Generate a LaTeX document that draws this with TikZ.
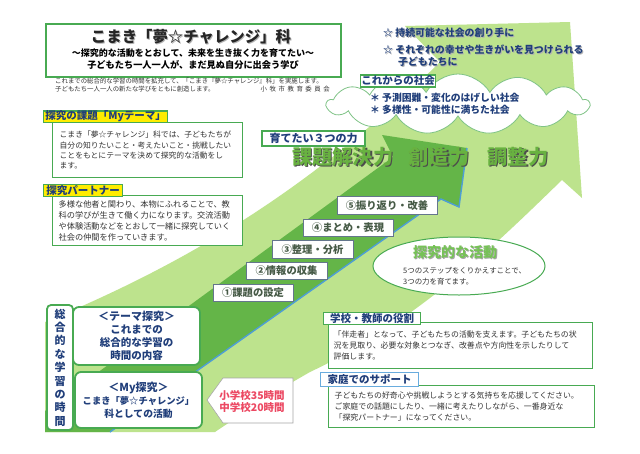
\documentclass[tikz,border=0pt]{standalone}
\usepackage{fontspec}
\setmainfont{Noto Sans CJK JP}
\usetikzlibrary{positioning,calc,shapes.geometric,shapes.symbols}
\definecolor{leaf}{RGB}{189,227,141}
\definecolor{deepleaf}{RGB}{100,181,72}
\definecolor{edgeblue}{RGB}{78,158,214}
\definecolor{boxgreen}{RGB}{72,170,82}
\definecolor{navy}{RGB}{32,62,122}
\definecolor{inkgray}{RGB}{50,50,50}
\definecolor{steptext}{RGB}{70,90,70}
\definecolor{stepline}{RGB}{100,118,140}
\definecolor{hourred}{RGB}{236,72,98}
\definecolor{tagyellow}{RGB}{255,236,0}
\definecolor{homeblue}{RGB}{105,172,222}
\definecolor{powgreen}{RGB}{104,178,64}
\definecolor{activegreen}{RGB}{118,194,86}
\begin{document}
\begin{tikzpicture}[x=1pt,y=-1pt,
    txtbox/.style={draw=boxgreen,line width=1.3pt,fill=white,anchor=north west,align=left,text=inkgray,inner ysep=0pt},
    tag/.style={draw=boxgreen,line width=1.3pt,fill=white,text=navy,inner sep=0pt,font=\bfseries\fontsize{10.5}{11}\selectfont,anchor=south west},
    yellowtag/.style={tag,fill=tagyellow},
    stepbox/.style={draw=stepline,line width=0.8pt,fill=white,text=steptext,inner sep=0pt,minimum height=17.5pt,font=\bfseries\fontsize{10.3}{11}\selectfont},
    roundbox/.style={draw=boxgreen,line width=1.8pt,fill=white,rounded corners=6pt,text=navy,align=center,inner sep=0pt},
    pow/.style={font=\bfseries\fontsize{20.2}{22}\selectfont,text=powgreen,inner sep=0pt},
    powshade/.style={pow,text=black!70},
    star/.style={font=\bfseries\fontsize{9.9}{12}\selectfont,text=navy,inner sep=0pt,anchor=west},
    starshade/.style={star,text=black!30}]
\fill[white] (0,0) rectangle (640,453);
\useasboundingbox (0,0) rectangle (640,453);
% the two arrows
\fill[leaf] (45,432) -- (45,322) .. controls (170,270) and (300,200) .. (440,62)
  -- (405,26) -- (570,22) -- (582,198) -- (562,180)
  .. controls (500,240) and (420,320) .. (310,372)
  .. controls (270,395) .. (215,432) -- cycle;
\fill[deepleaf] (45,432) -- (45,411) -- (393,157) -- (382,135) -- (467,148)
  -- (459,207) -- (441,199) -- (110,432) -- cycle;
\draw[edgeblue,line width=1.4pt] (467,148) -- (459,207) -- (441,199) -- (110,432);
% title
\node[draw=boxgreen,line width=1.8pt,fill=white,minimum width=295pt,minimum height=53pt,anchor=north west] (titlebox) at (45,23) {};
\node[font=\bfseries\fontsize{15.4}{16}\selectfont,text=black!30,inner sep=0pt] (titleS) at (192,38) {こまき「夢☆チャレンジ」科};
\node[font=\bfseries\fontsize{15.4}{16}\selectfont,text=black!85,inner sep=0pt] (title) at (191,37) {こまき「夢☆チャレンジ」科};
\node[font=\bfseries\fontsize{9}{10}\selectfont,inner sep=0pt] (subtitle) at (193,53) {～探究的な活動をとおして、未来を生き抜く力を育てたい～};
\node[font=\bfseries\fontsize{9.2}{10}\selectfont,inner sep=0pt] (motto) at (193,65) {子どもたち一人一人が、まだ見ぬ自分に出会う学び};
\node[anchor=west,align=left,font=\fontsize{6.4}{8}\selectfont,text=inkgray,inner sep=0pt] (intro) at (55,85) {これまでの総合的な学習の時間を拡充して、「こまき『夢☆チャレンジ』科」を実施します。\\子どもたち一人一人の新たな学びをともに創造します。};
\node[anchor=east,font=\fontsize{6.4}{8}\selectfont\addfontfeature{LetterSpace=40},text=inkgray,inner sep=0pt] (board) at (330,89) {小牧市教育委員会};
% aims
\node[starshade] (star1S) at (384,34) {☆ 持続可能な社会の創り手に};
\node[starshade,align=left] (star2S) at (384,57) {☆ それぞれの幸せや生きがいを見つけられる\\\hspace{1.5em}子どもたちに};
\node[star] (star1) at (383,33) {☆ 持続可能な社会の創り手に};
\node[star,align=left] (star2) at (383,56) {☆ それぞれの幸せや生きがいを見つけられる\\\hspace{1.5em}子どもたちに};
\node[cloud,cloud puffs=13,cloud puff arc=120,aspect=4.6,draw=boxgreen!70,line width=0.8pt,fill=white,minimum width=262pt,minimum height=60pt,inner sep=0pt] (society) at (458,104) {};
\node[tag,minimum width=75pt,minimum height=12pt] (societytag) at (360,87.5) {これからの社会};
\node[anchor=west,align=left,font=\bfseries\fontsize{9.8}{11.8}\selectfont,text=navy,inner sep=0pt] (future) at (370,104) {＊\ 予測困難・変化のはげしい社会\\＊\ 多様性・可能性に満ちた社会};
% left boxes
\node[txtbox,text width=176pt,inner xsep=7pt,minimum height=55pt,font=\fontsize{7.8}{10.4}\selectfont] (mybox) at (52,122) {こまき「夢☆チャレンジ」科では、子どもたちが\\自分の知りたいこと・考えたいこと・挑戦したい\\ことをもとにテーマを決めて探究的な活動をし\\ます。};
\node[yellowtag,minimum width=124pt,minimum height=11.5pt] (mytag) at ($(mybox.north west)+(-9,1)$) {探究の課題「Myテーマ」};
\node[txtbox,text width=178pt,inner xsep=6pt,minimum height=50pt,font=\fontsize{8.2}{11}\selectfont] (partnerbox) at (52,195) {多様な他者と関わり、本物にふれることで、教\\科の学びが生きて働く力になります。交流活動\\や体験活動などをとおして一緒に探究していく\\社会の仲間を作っていきます。};
\node[yellowtag,minimum width=79pt,minimum height=12pt] (partnertag) at ($(partnerbox.north west)+(-9,2)$) {探究パートナー};
% three powers
\node[tag,anchor=center,minimum width=103pt,minimum height=15pt,line width=1.6pt,font=\bfseries\fontsize{11}{12}\selectfont] (growtag) at (313.5,138.5) {育てたい３つの力};
\node[powshade,anchor=west] (kadaiS) at (293.3,158.3) {課題解決力};
\node[powshade,right=15pt of kadaiS] (sozoS) {創造力};
\node[powshade,right=18pt of sozoS] (choseiS) {調整力};
\node[pow,anchor=west] (kadai) at (292,157) {課題解決力};
\node[pow,right=15pt of kadai] (sozo) {創造力};
\node[pow,right=18pt of sozo] (chosei) {調整力};
% steps
\node[stepbox,minimum width=80pt] (step1) at (253,293) {①課題の設定};
\node[stepbox,minimum width=81pt] (step2) at (286.5,271) {②情報の収集};
\node[stepbox,minimum width=81pt] (step3) at (312.5,249.5) {③整理・分析};
\node[stepbox,minimum width=90pt] (step4) at (348,228) {④まとめ・表現};
\node[stepbox,minimum width=100pt] (step5) at (387,205.5) {⑤振り返り・改善};
% inquiry
\node[ellipse,draw=boxgreen,line width=1pt,fill=white,minimum width=172pt,minimum height=58pt,inner sep=0pt] (inquiry) at (459,266) {};
\node[font=\bfseries\fontsize{14}{15}\selectfont,text=black!35,inner sep=0pt] (inquiryS) at (456,253) {探究的な活動};
\node[font=\bfseries\fontsize{14}{15}\selectfont,text=activegreen,inner sep=0pt] (inquirytitle) at (455,252) {探究的な活動};
\node[anchor=west,align=left,font=\fontsize{7.45}{11}\selectfont,text=inkgray,inner sep=0pt] (inquirytext) at (403,276.5) {5つのステップをくりかえすことで、\\3つの力を育てます。};
% right boxes
\node[txtbox,text width=254pt,inner xsep=5pt,minimum height=46pt,font=\fontsize{7.9}{11}\selectfont] (schoolbox) at (328,322) {「伴走者」となって、子どもたちの活動を支えます。子どもたちの状\\況を見取り、必要な対象とつなぎ、改善点や方向性を示したりして\\評価します。};
\node[tag,minimum width=97pt,minimum height=12pt] (schooltag) at ($(schoolbox.north west)+(-5,3)$) {学校・教師の役割};
\node[txtbox,text width=254pt,inner xsep=6pt,minimum height=42pt,font=\fontsize{7.9}{11}\selectfont] (homebox) at (328,385) {子どもたちの好奇心や挑戦しようとする気持ちを応援してください。\\ご家庭での話題にしたり、一緒に考えたりしながら、一番身近な\\「探究パートナー」になってください。};
\node[tag,draw=homeblue,minimum width=98pt,minimum height=14pt] (hometag) at ($(homebox.north west)+(-8,2)$) {家庭でのサポート};
% hours of study
\node[roundbox,minimum width=26pt,minimum height=125pt,rounded corners=4pt,font=\bfseries\fontsize{11}{13.4}\selectfont] (period) at (60,367.5) {総\\合\\的\\な\\学\\習\\の\\時\\間};
\node[roundbox,minimum width=127pt,minimum height=58pt,font=\bfseries\fontsize{10.5}{13}\selectfont] (themequest) at (136.5,336) {{\fontsize{11}{13}\selectfont ＜テーマ探究＞}\\これまでの\\総合的な学習の\\時間の内容};
\node[roundbox,minimum width=127pt,minimum height=56pt,font=\bfseries\fontsize{9.3}{13}\selectfont] (myquest) at (138.5,400) {{\fontsize{11}{13}\selectfont ＜My探究＞}\\こまき「夢☆チャレンジ」\\{\fontsize{9.8}{13}\selectfont 科としての活動}};
\draw[black!35,line width=0.6pt,fill=white] (207,400) -- (223,378) -- (293,378) -- (293,423) -- (223,423) -- cycle;
\node[font=\bfseries\fontsize{10.5}{12}\selectfont,text=hourred,align=center,inner sep=0pt] (hours) at (252,401) {小学校35時間\\中学校20時間};
\end{tikzpicture}
\end{document}
